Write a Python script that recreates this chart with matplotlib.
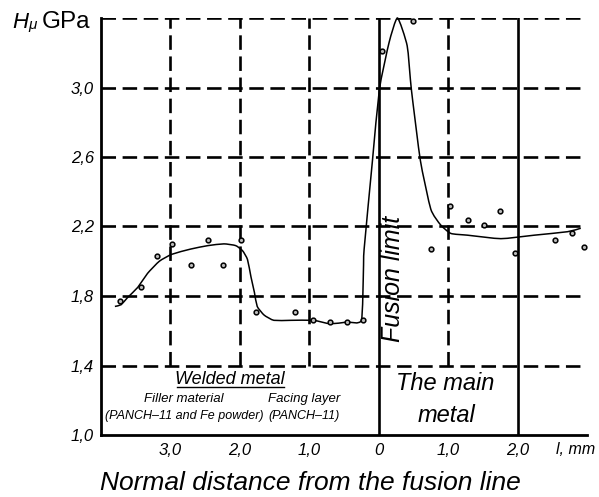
import matplotlib
matplotlib.use("Agg")
import matplotlib.pyplot as plt
from matplotlib.path import Path
from matplotlib.patches import PathPatch

# ---------------- data ----------------
# measured points (x: mm from fusion line, weld side negative)
pts_x = [-3.73, -3.43, -3.20, -2.98, -2.70, -2.46, -2.24, -1.99, -1.77, -1.20,
         -0.94, -0.70, -0.46, -0.23, 0.05, 0.49, 0.76, 1.02, 1.28, 1.51,
         1.75, 1.96, 2.54, 2.79, 2.95]
pts_y = [1.77, 1.85, 2.03, 2.10, 1.98, 2.12, 1.98, 2.12, 1.71, 1.71,
         1.66, 1.65, 1.65, 1.66, 3.21, 3.38, 2.07, 2.32, 2.24, 2.21,
         2.29, 2.05, 2.12, 2.16, 2.08]

# hand-drawn trend curve
curve_x = [-3.80, -3.71, -3.62, -3.47, -3.33, -3.16, -2.98, -2.71, -2.46, -2.23,
           -2.06, -1.96, -1.89, -1.84, -1.79, -1.75, -1.65, -1.51, -1.27, -0.94,
           -0.70, -0.46, -0.25, -0.22, -0.21, -0.09, 0.01, 0.15, 0.27, 0.41,
           0.47, 0.60, 0.75, 0.89, 1.04, 1.28, 1.76, 2.24, 2.72, 2.91]
curve_y = [1.74, 1.75, 1.79, 1.85, 1.93, 2.00, 2.04, 2.07, 2.09, 2.10,
           2.09, 2.06, 2.01, 1.91, 1.82, 1.74, 1.69, 1.66, 1.66, 1.66,
           1.64, 1.65, 1.66, 1.95, 2.07, 2.58, 2.99, 3.26, 3.40, 3.24,
           2.99, 2.58, 2.30, 2.21, 2.16, 2.15, 2.13, 2.15, 2.17, 2.19]

x_ticks = [-3, -2, -1, 0, 1, 2]
x_tick_labels = ["3,0", "2,0", "1,0", "0", "1,0", "2,0"]
y_ticks = [1.0, 1.4, 1.8, 2.2, 2.6, 3.0]
y_tick_labels = ["1,0", "1,4", "1,8", "2,2", "2,6", "3,0"]
h_grid = [1.4, 1.8, 2.2, 2.6, 3.0, 3.4]
v_grid_dashed = [-3, -2, -1, 1]
v_grid_solid = [0, 2]

fam = ["Liberation Sans", "DejaVu Sans"]

fig = plt.figure(figsize=(5.99, 4.97), dpi=100)
ax = fig.add_axes([101/599, 1-435/497, 486/599, 417/497])
ax.set_xlim(-4, 3)
ax.set_ylim(1.0, 3.4)

dash = (0, (5.5, 2.5))
lw = 1.9
for y in h_grid:
    ax.plot([-4, 3], [y, y], color="black", lw=lw, linestyle=dash, zorder=1)
for x in v_grid_dashed:
    ax.plot([x, x], [1.4, 3.4], color="black", lw=lw, linestyle=dash, zorder=1)
for x in v_grid_solid:
    ax.plot([x, x], [1.0, 3.4], color="black", lw=lw, zorder=1)

# smooth hand-drawn curve: low-tension Catmull-Rom through the read points (Bezier path)
tension = 0.55
verts = [(curve_x[0], curve_y[0])]
codes = [Path.MOVETO]
n = len(curve_x)
for i in range(n - 1):
    p0 = (curve_x[max(i - 1, 0)], curve_y[max(i - 1, 0)])
    p1 = (curve_x[i], curve_y[i])
    p2 = (curve_x[i + 1], curve_y[i + 1])
    p3 = (curve_x[min(i + 2, n - 1)], curve_y[min(i + 2, n - 1)])
    c1 = (p1[0] + tension * (p2[0] - p0[0]) / 6, p1[1] + tension * (p2[1] - p0[1]) / 6)
    c2 = (p2[0] - tension * (p3[0] - p1[0]) / 6, p2[1] - tension * (p3[1] - p1[1]) / 6)
    verts += [c1, c2, p2]
    codes += [Path.CURVE4] * 3
ax.add_patch(PathPatch(Path(verts, codes), facecolor="none", edgecolor="black",
                       lw=1.1, zorder=3, clip_on=False))

ax.plot(pts_x, pts_y, linestyle="none", marker="o", markersize=3.4,
        markerfacecolor="#bbbbbb", markeredgecolor="black", markeredgewidth=1.1,
        zorder=4, clip_on=False)

for s in ["top", "right"]:
    ax.spines[s].set_visible(False)
for s in ["left", "bottom"]:
    ax.spines[s].set_linewidth(2.0)

ax.set_xticks(x_ticks)
ax.set_xticklabels(x_tick_labels, fontsize=12, style="italic", family=fam)
ax.set_yticks(y_ticks)
ax.set_yticklabels(y_tick_labels, fontsize=12, style="italic", family=fam)
ax.tick_params(length=0)
ax.tick_params(axis="y", pad=5)
ax.tick_params(axis="x", pad=6)

ax.text(2.84, 0.918, "l, mm", fontsize=11.5, style="italic", family=fam,
        ha="center", va="center")

# axis title at top-left
fig.text(12/599, 1-22/497, "H", fontsize=16, style="italic", family=fam,
         ha="left", va="center")
fig.text(28/599, 1-25/497, "μ", fontsize=11, style="italic", family=fam,
         ha="left", va="center")
fig.text(42/599, 1-22/497, "GPa", fontsize=17.5, family=fam,
         ha="left", va="center")

# annotations
ax.text(-2.14, 1.322, "Welded metal", fontsize=13, style="italic", family=fam,
        ha="center", va="center")
ax.plot([-2.90, -1.37], [1.276, 1.276], color="black", lw=1.0)
ax.text(-2.81, 1.207, "Filler material", fontsize=9.5, style="italic", family=fam,
        ha="center", va="center")
ax.text(-2.80, 1.109, "(PANCH–11 and Fe powder)", fontsize=9, style="italic", family=fam,
        ha="center", va="center")
ax.text(-1.08, 1.207, "Facing layer", fontsize=9.5, style="italic", family=fam,
        ha="center", va="center")
ax.text(-1.08, 1.109, "(PANCH–11)", fontsize=9, style="italic", family=fam,
        ha="center", va="center")
ax.text(0.96, 1.294, "The main", fontsize=17, style="italic", family=fam,
        ha="center", va="center")
ax.text(0.97, 1.115, "metal", fontsize=17, style="italic", family=fam,
        ha="center", va="center")
ax.text(0.21, 1.90, "Fusion limit", fontsize=18, style="italic", family=fam,
        rotation=90, ha="center", va="center", zorder=5)

fig.text(310/599, 1-483/497, "Normal distance from the fusion line", fontsize=19,
         style="italic", family=fam, ha="center", va="center")

fig.savefig("out.png", dpi=100)
